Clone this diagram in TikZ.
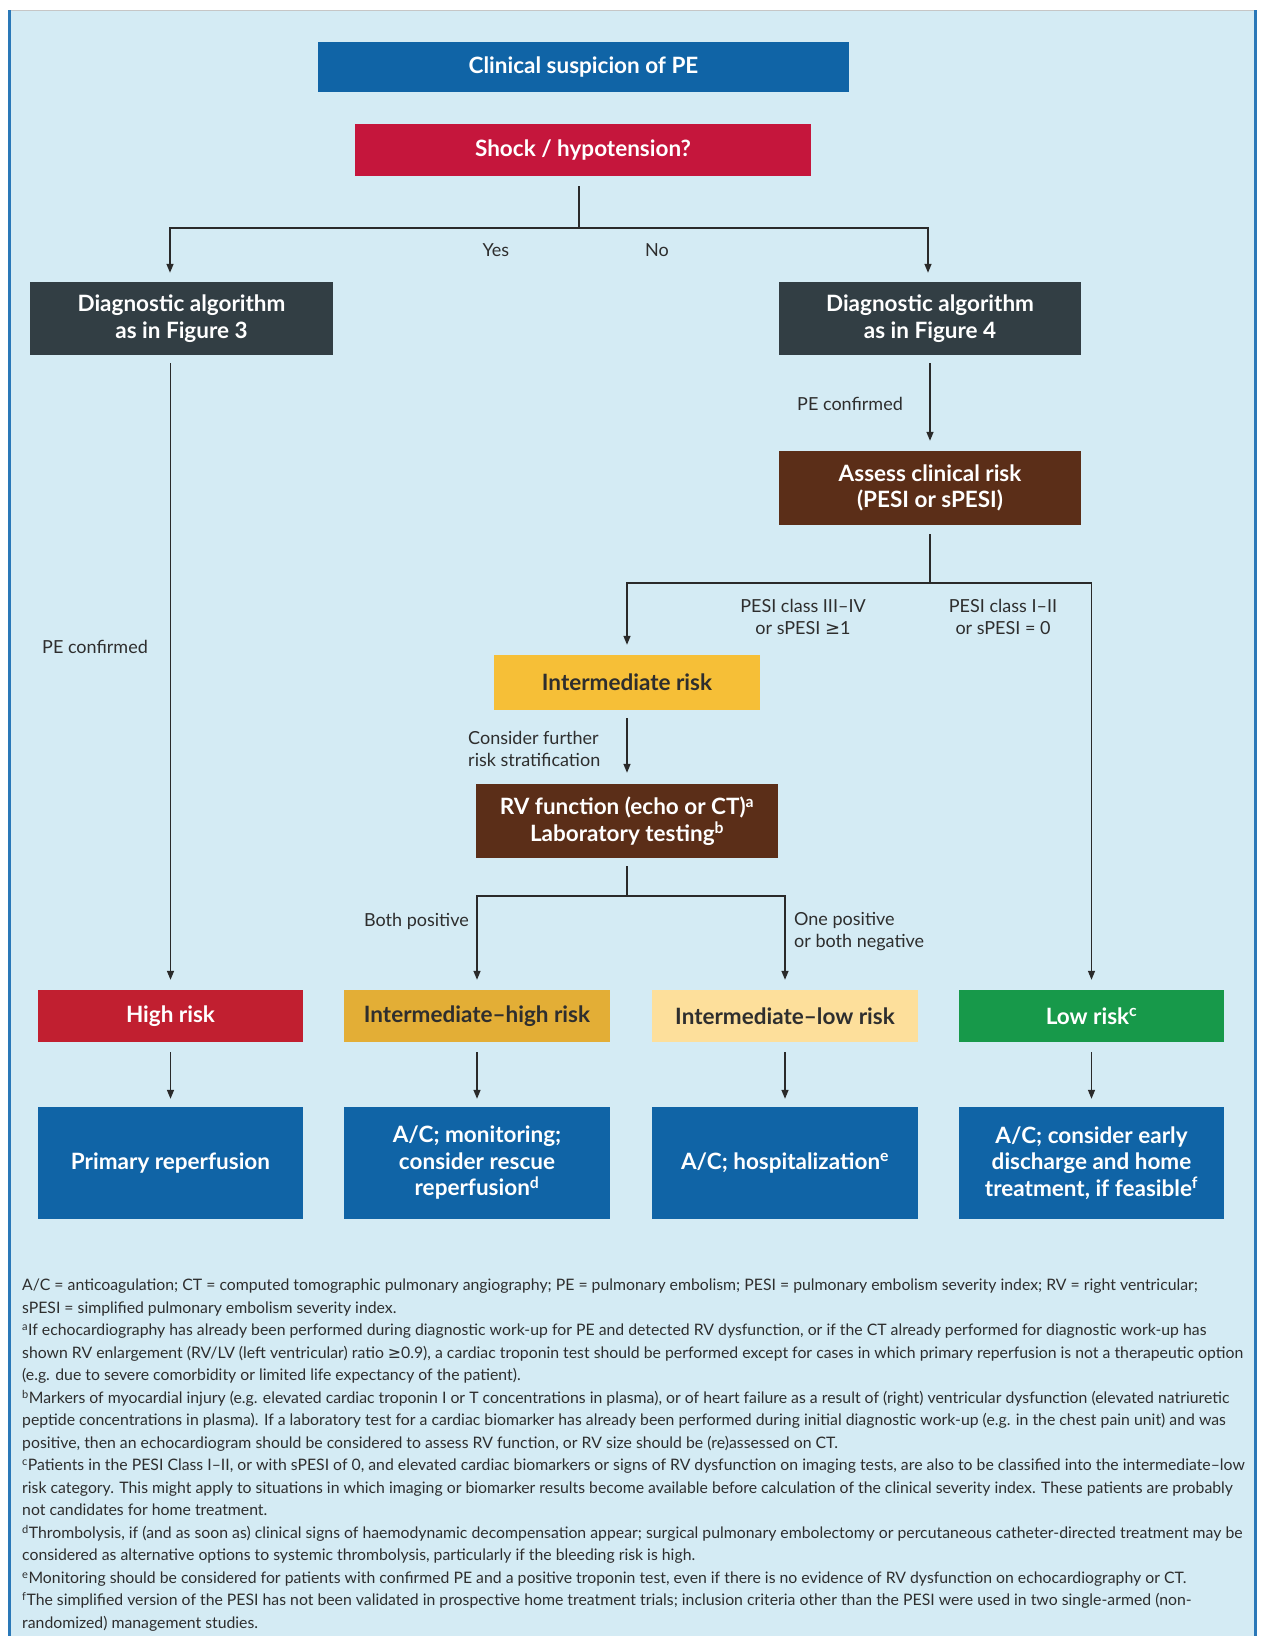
\documentclass[tikz,border=0pt]{standalone}
\usepackage{fontspec}
\setmainfont{Lato}
\newfontfamily\dejavu{DejaVu Sans}
\usetikzlibrary{arrows.meta,calc}
\definecolor{panelbg}{HTML}{D4EBF4}
\definecolor{bordC}{HTML}{2A78B8}
\definecolor{cblue}{HTML}{1064A6}
\definecolor{cred}{HTML}{C5163C}
\definecolor{cslate}{HTML}{323E44}
\definecolor{cbrown}{HTML}{5B2E18}
\definecolor{cinter}{HTML}{F6BF37}
\definecolor{cih}{HTML}{E3AE36}
\definecolor{cil}{HTML}{FDDF9B}
\definecolor{clow}{HTML}{17994A}
\definecolor{chigh}{HTML}{C11F30}
\definecolor{txt}{HTML}{2E2E2E}
\definecolor{lineC}{HTML}{2A2A2A}
\newcommand{\boxfont}{\fontsize{22.5}{26.5}\selectfont\bfseries}
\newcommand{\lblfont}{\fontsize{18}{22}\selectfont}
\newcommand{\footfont}{\fontsize{15.8}{22.5}\selectfont}
\newcommand{\myge}{{\dejavu ≥}}
\begin{document}
\begin{tikzpicture}[x=1pt,y=-1pt,
  ln/.style={draw=lineC, line width=1.4pt},
  arr/.style={ln, -{Triangle[length=9pt,width=7pt]}},
  box/.style={rectangle, inner sep=0pt, align=center, font=\boxfont, text=white},
  lbl/.style={font=\lblfont, text=txt, inner sep=0pt, align=center}]
\useasboundingbox (0,0) rectangle (1264,1636);
\fill[white] (0,0) rectangle (1264,1636);
\fill[panelbg] (8,10) rectangle (1257,1636);
\draw[gray!45, line width=1pt] (8,10.5) -- (1257,10.5);
\draw[bordC, line width=3pt] (9.5,10) -- (9.5,1636);
\draw[bordC, line width=3pt] (1255.5,10) -- (1255.5,1636);

% boxes
\node[box, fill=cblue, minimum width=531pt, minimum height=50pt] (clin) at (583.5,67) {Clinical suspicion of PE};
\node[box, fill=cred, minimum width=456pt, minimum height=52pt] (shock) at (583,150) {Shock / hypotension?};
\node[box, fill=cslate, minimum width=303pt, minimum height=73pt] (fig3) at (181.5,318.5) {Diagnostic algorithm\\as in Figure 3};
\node[box, fill=cslate, minimum width=302pt, minimum height=73pt] (fig4) at (930,318.5) {Diagnostic algorithm\\as in Figure 4};
\node[box, fill=cbrown, minimum width=302pt, minimum height=74pt] (assess) at (930,488) {Assess clinical risk\\(PESI or sPESI)};
\node[box, fill=cinter, text=txt, minimum width=266pt, minimum height=55pt] (inter) at (627,682.5) {Intermediate risk};
\node[box, fill=cbrown, minimum width=302pt, minimum height=74pt] (rv) at (627,821) {RV function (echo or CT)\textsuperscript{a}\\Laboratory testing\textsuperscript{b}};

\node[box, fill=chigh, minimum width=265pt, minimum height=52pt] (high) at (170.5,1016) {High risk};
\node[box, fill=cih, text=txt, minimum width=266pt, minimum height=52pt] (ih) at (477,1016) {Intermediate–high risk};
\node[box, fill=cil, text=txt, minimum width=266pt, minimum height=52pt] (il) at (785,1016) {Intermediate–low risk};
\node[box, fill=clow, minimum width=265pt, minimum height=52pt] (low) at (1091.5,1016) {Low risk\textsuperscript{c}};

\node[box, fill=cblue, minimum width=265pt, minimum height=112pt] (t1) at (170.5,1163) {Primary reperfusion};
\node[box, fill=cblue, minimum width=266pt, minimum height=112pt] (t2) at (477,1163) {A/C; monitoring;\\consider rescue\\reperfusion\textsuperscript{d}};
\node[box, fill=cblue, minimum width=266pt, minimum height=112pt] (t3) at (785,1163) {A/C; hospitalization\textsuperscript{e}};
\node[box, fill=cblue, minimum width=265pt, minimum height=112pt] (t4) at (1091.5,1163) {A/C; consider early\\discharge and home\\treatment, if feasible\textsuperscript{f}};

% junctions
\coordinate (j1) at (579,228);
\coordinate (a3) at (170,228);
\coordinate (a4) at (928,228);
\coordinate (j2) at (930,583);
\coordinate (j3) at (627,896);

% connectors
\draw[ln] ($(shock.south -| j1)+(0,10)$) -- (j1);
\draw[arr] (j1) -| ($(fig3.north -| a3)+(0,-9)$);
\draw[arr] (j1) -| ($(fig4.north -| a4)+(0,-9)$);
\draw[arr] ($(fig4.south)+(0,8)$) -- ($(assess.north)+(0,-10)$);
\draw[ln] ($(assess.south)+(0,9)$) -- (j2);
\draw[arr] (j2) -| ($(inter.north)+(0,-10)$);
\draw[arr] (j2) -| ($(low.north)+(0,-10)$);
\draw[arr] ($(inter.south)+(0,8)$) -- ($(rv.north)+(0,-11)$);
\draw[ln] ($(rv.south)+(0,8)$) -- (j3);
\draw[arr] (j3) -| ($(ih.north)+(0,-10)$);
\draw[arr] (j3) -| ($(il.north)+(0,-10)$);
\draw[arr] ($(fig3.south -| high.north)+(0,8)$) -- ($(high.north)+(0,-10)$);
\draw[arr] ($(high.south)+(0,10)$) -- ($(t1.north)+(0,-8)$);
\draw[arr] ($(ih.south)+(0,10)$) -- ($(t2.north)+(0,-8)$);
\draw[arr] ($(il.south)+(0,10)$) -- ($(t3.north)+(0,-8)$);
\draw[arr] ($(low.south)+(0,10)$) -- ($(t4.north)+(0,-8)$);

% labels
\node[lbl] (yes) at (496,250) {Yes};
\node[lbl] (no) at (657,250) {No};
\node[lbl, anchor=west] (pec1) at (42,647) {PE confirmed};
\node[lbl, anchor=east] (pec2) at (903,404) {PE confirmed};
\node[lbl] (pesi1) at (803,617) {PESI class III–IV\\or sPESI \myge1};
\node[lbl] (pesi2) at (1003,617) {PESI class I–II\\or sPESI = 0};
\node[lbl, anchor=west, align=left] (cons) at (468,749) {Consider further\\risk stratification};
\node[lbl, anchor=east] (bothpos) at (469,921) {Both positive};
\node[lbl, anchor=west, align=left] (onepos) at (794,932) {One positive\\or both negative};

% footnotes
\node[anchor=north west, inner sep=0pt, align=left, font=\footfont, text=txt] (notes) at (22,1279) {%
A/C = anticoagulation; CT = computed tomographic pulmonary angiography; PE = pulmonary embolism; PESI = pulmonary embolism severity index; RV = right ventricular;\\
sPESI = simplified pulmonary embolism severity index.\\
\textsuperscript{a}If echocardiography has already been performed during diagnostic work-up for PE and detected RV dysfunction, or if the CT already performed for diagnostic work-up has\\
shown RV enlargement (RV/LV (left ventricular) ratio \myge0.9), a cardiac troponin test should be performed except for cases in which primary reperfusion is not a therapeutic option\\
(e.g. due to severe comorbidity or limited life expectancy of the patient).\\
\textsuperscript{b}Markers of myocardial injury (e.g. elevated cardiac troponin I or T concentrations in plasma), or of heart failure as a result of (right) ventricular dysfunction (elevated natriuretic\\
peptide concentrations in plasma). If a laboratory test for a cardiac biomarker has already been performed during initial diagnostic work-up (e.g. in the chest pain unit) and was\\
positive, then an echocardiogram should be considered to assess RV function, or RV size should be (re)assessed on CT.\\
\textsuperscript{c}Patients in the PESI Class I–II, or with sPESI of 0, and elevated cardiac biomarkers or signs of RV dysfunction on imaging tests, are also to be classified into the intermediate–low\\
risk category. This might apply to situations in which imaging or biomarker results become available before calculation of the clinical severity index. These patients are probably\\
not candidates for home treatment.\\
\textsuperscript{d}Thrombolysis, if (and as soon as) clinical signs of haemodynamic decompensation appear; surgical pulmonary embolectomy or percutaneous catheter-directed treatment may be\\
considered as alternative options to systemic thrombolysis, particularly if the bleeding risk is high.\\
\textsuperscript{e}Monitoring should be considered for patients with confirmed PE and a positive troponin test, even if there is no evidence of RV dysfunction on echocardiography or CT.\\
\textsuperscript{f}The simplified version of the PESI has not been validated in prospective home treatment trials; inclusion criteria other than the PESI were used in two single-armed (non-\\
randomized) management studies.};
\end{tikzpicture}
\end{document}
